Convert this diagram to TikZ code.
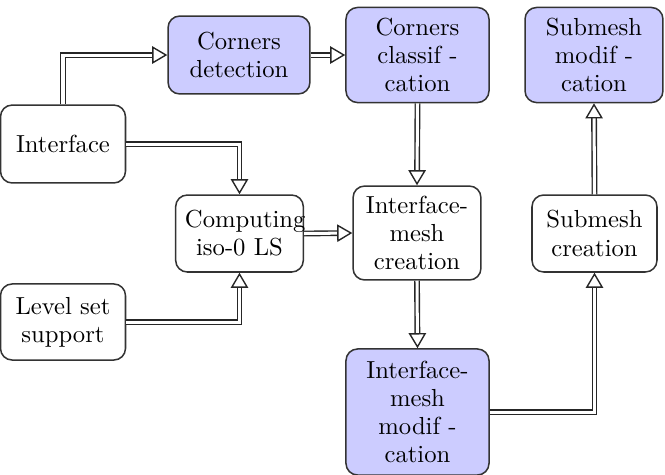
\documentclass[tikz,border=0pt]{standalone}
\usetikzlibrary{arrows.meta}
\begin{document}
\begin{tikzpicture}[x=0.43pt, y=-0.43pt,
  box/.style={draw=black!80, line width=0.65pt, rounded corners=5pt, align=center,
    inner xsep=3pt, inner ysep=2pt, font=\fontsize{10.6pt}{12.1pt}\selectfont, fill=white},
  hl/.style={box, fill=blue!20},
  dbl/.style={draw=black!85, line width=0.6pt, double=white, double distance=1.3pt,
    -{Triangle[length=6.5pt, width=7.5pt, fill=white, line width=0.6pt]}}]
\useasboundingbox (0,0) rectangle (665,474);

% process boxes
\node[box, text width=47.75pt, minimum height=33.5pt] (iface) at (63,144) {Interface};
\node[hl, text width=55pt, minimum height=33.5pt] (cdet) at (239,55) {Corners\\detection};
\node[hl, text width=55.5pt, minimum height=40.9pt] (cclass) at (417.5,55) {Corners\\classif -\\cation};
\node[hl, text width=53.3pt, minimum height=40.9pt] (smod) at (594,55) {Submesh\\modif -\\cation};
\node[box, text width=46.9pt, inner xsep=4pt, minimum height=33.1pt] (comp) at (239.5,233.5) {Computing\\iso-0 LS};
\node[box, text width=49pt, minimum height=40.4pt] (imcre) at (417,233) {Interface-\\mesh\\creation};
\node[box, text width=47.75pt, minimum height=33.1pt] (screa) at (594.5,233.5) {Submesh\\creation};
\node[box, text width=47.75pt, minimum height=32.7pt] (lss) at (63,322) {Level set\\support};
\node[hl, text width=55.5pt, minimum height=54.2pt] (immod) at (417.5,412) {Interface-\\mesh\\modif -\\cation};

% data flow
\draw[dbl] (iface.north) |- (cdet.west);
\draw[dbl] (cdet.east) -- (cclass.west);
\draw[dbl] (iface.east) -| (comp.north);
\draw[dbl] (lss.east) -| (comp.south);
\draw[dbl] (comp.east) -- (imcre.west);
\draw[dbl] (cclass.south) -- (imcre.north);
\draw[dbl] (imcre.south) -- (immod.north);
\draw[dbl] (immod.east) -| (screa.south);
\draw[dbl] (screa.north) -- (smod.south);
\end{tikzpicture}
\end{document}
